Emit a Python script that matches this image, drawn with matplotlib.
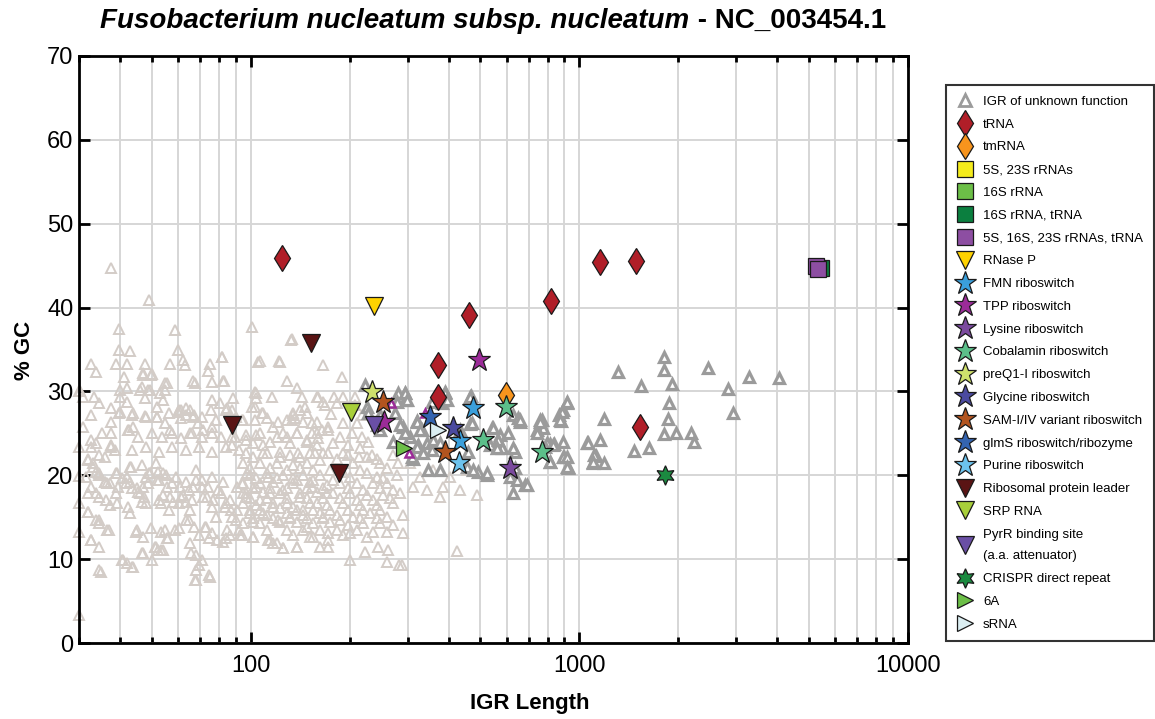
import numpy as np
import matplotlib.pyplot as plt
from matplotlib.lines import Line2D

plt.rcParams['font.family'] = ['Liberation Sans', 'DejaVu Sans']

# IGRs of unknown function (short ones, light)
igr_light = [
    (37.6, 44.7), (48.9, 40.9), (39.7, 37.5), (58.7, 37.3), (100.5, 37.7), (133, 36.3),
    (39.7, 35.0), (42.8, 34.8), (32.7, 33.3), (33.9, 32.3), (38.8, 33.3), (41.9, 33.3),
    (47.5, 33.3), (46.9, 32.2), (50.0, 32.1), (56.6, 33.3), (60.0, 35.0), (62.1, 33.7),
    (62.9, 33.1), (75.0, 33.3), (73.9, 32.4), (81.6, 34.1), (66.6, 31.2), (67.5, 31.0),
    (82.2, 31.2), (105, 33.5), (122.6, 33.5), (128.8, 31.2), (138.2, 30.4), (165.8, 33.1),
    (146.1, 28.1), (159, 29.3), (166, 28.7), (30.2, 30.0), (30.8, 29.3), (33.4, 29.3),
    (34.6, 28.6), (32.7, 27.2), (30.8, 25.7), (37.6, 26.3), (39.9, 27.5), (39.9, 29.3),
    (41.9, 28.7), (39.9, 30.2), (43.7, 27.4), (43.7, 25.7), (42.2, 25.4), (45.9, 30.2),
    (47.5, 29.2), (49.2, 30.2), (47.5, 27.1), (51.7, 26.9), (52.8, 29.8), (54.0, 29.0),
    (55.5, 31.0), (52.0, 28.1), (54.7, 26.2), (56.6, 25.4), (60.0, 27.5), (61.4, 27.8),
    (63.4, 27.2), (65.2, 27.8), (61.4, 26.8), (66.6, 26.9), (68.9, 26.2), (65.2, 25.1),
    (71.4, 25.4), (76.1, 25.7), (76.1, 29.0), (80.4, 28.6), (84.4, 28.0), (87.5, 27.8),
    (88.2, 29.2), (93.9, 26.6), (89.4, 24.6), (87.5, 23.6), (102.8, 29.9), (104, 29.2),
    (100.6, 28.1), (108, 27.4), (111.8, 26.8), (115.8, 29.3), (120.8, 26.3), (128.8, 26.6),
    (134, 27.2), (136, 26.8), (141, 27.8), (148, 27.4), (153.5, 26.2), (159, 25.1),
    (104, 24.8), (120, 24.6), (128.8, 24.6), (138, 25.1), (148, 24.2), (160, 24.4),
    (171.8, 25.4), (109, 23.6), (97, 24.2),
    (32.7, 24.2), (33.9, 23.8), (31.9, 22.0), (33.0, 21.5), (34.6, 22.4), (35.9, 22.2),
    (35.3, 25.0), (37.6, 23.6), (38.5, 23.0), (31.6, 19.8), (32.7, 18.6), (31.9, 17.9),
    (33.9, 20.4), (34.6, 20.3), (35.9, 19.2), (36.6, 19.1), (33.9, 17.9), (34.6, 17.4),
    (36.3, 17.0), (37.2, 16.4), (39.0, 20.3), (39.4, 18.6), (41.9, 19.8), (42.8, 21.0),
    (42.8, 19.2), (44.9, 18.5), (46.9, 18.6), (48.1, 19.8), (45.9, 17.9), (46.5, 16.8),
    (48.1, 16.7), (49.2, 20.3), (48.5, 19.1), (51.7, 19.4), (52.1, 20.4), (54.0, 20.3),
    (54.0, 17.6), (53.4, 16.7), (55.5, 18.6), (56.6, 17.4), (57.9, 16.8), (59.3, 19.8),
    (60.8, 18.6), (62.1, 17.6), (63.4, 19.2), (63.4, 16.8), (65.2, 15.9), (66.6, 18.6),
    (68.0, 20.6), (70.9, 19.4), (71.4, 17.4), (73.9, 18.6), (76.1, 19.8), (76.7, 17.0),
    (79.3, 18.2), (82.2, 19.2), (83.3, 16.2), (86.3, 17.0), (87.5, 15.0), (90.7, 18.6),
    (90.7, 15.9), (94.6, 17.9), (97.2, 20.3), (99.3, 15.9), (101.4, 14.4), (104, 18.6),
    (106.5, 17.0), (109, 15.5), (112.7, 19.8), (114, 17.9), (116.8, 16.2), (120.8, 14.7),
    (125, 18.2), (128.8, 16.7), (131.5, 15.0), (138, 19.4), (141, 17.4), (144, 15.9),
    (148, 13.8), (153.5, 18.6), (159, 16.7), (166, 15.0), (170, 17.9), (172, 13.1),
    (31.9, 15.6), (33.9, 14.7), (34.6, 14.3), (36.6, 13.5), (32.7, 12.3), (34.6, 11.4),
    (34.6, 8.7), (40.7, 9.9), (41.9, 9.5), (43.7, 9.1), (42.2, 16.2), (42.8, 15.5),
    (44.9, 13.5), (46.9, 12.6), (46.9, 10.7), (50.0, 9.9), (51.0, 11.4), (52.1, 11.1),
    (54.0, 11.1), (54.7, 13.5), (55.9, 12.5), (58.7, 13.5), (63.4, 14.7), (65.2, 11.9),
    (65.9, 10.7), (68.0, 8.7), (67.5, 7.5), (70.9, 9.9), (75.0, 7.9), (72.4, 13.8),
    (76.1, 13.1), (78.8, 12.3), (82.2, 12.0), (84.4, 13.5), (86.3, 12.9), (92.6, 12.9),
    (101.4, 12.6), (112.7, 12.3), (120, 11.9), (125, 11.3), (138, 11.4), (155, 12.6),
    (162, 11.4),
    (30, 30.0), (30, 23.4), (30, 19.9), (30, 16.7), (30, 13.2), (30, 3.3),
    (132.5, 36.1), (107, 33.6), (121.8, 33.6), (189, 31.7), (104, 29.8), (143, 29.3),
    (160, 29.3), (179, 29.3), (191, 29.3), (207.7, 29.3), (102.8, 28.1), (168, 28.4),
    (183, 28.6), (208, 28.4), (109, 27.4), (134, 27.4), (176, 27.3), (218, 27.2),
    (94.6, 26.6), (102.8, 26.6), (117, 25.7), (133, 26.6), (144, 26.3), (159, 26.3),
    (172, 25.7), (191, 26.2), (211, 26.2), (97, 24.8), (106.5, 25.0), (125, 25.1),
    (138, 25.0), (153.5, 25.0), (164.5, 25.4), (187, 24.6), (203, 25.0), (218, 24.6),
    (227, 24.0), (101.4, 23.8), (114, 24.0), (131.5, 23.8), (148, 24.0), (159, 23.6),
    (178, 23.8), (198, 23.6), (215, 23.2), (97, 22.6), (109, 22.6), (122.6, 22.8),
    (139, 22.6), (157, 22.6), (172, 22.6), (191, 22.6), (213, 22.2), (234, 22.4),
    (112, 22.6), (131.5, 22.4), (166, 22.6), (197, 22.4), (225, 22.2), (270, 22.4),
    (94.6, 21.5), (106.5, 21.5), (120, 21.5), (134, 21.2), (148, 21.5), (162, 21.8),
    (205, 21.5), (247.6, 21.5), (281, 21.5), (99.3, 20.0), (112, 20.3), (125, 20.0),
    (144, 20.0), (162, 20.0), (200.5, 19.8), (225, 20.3), (242, 19.8), (279, 20.0),
    (94.6, 19.1), (106.5, 19.1), (117, 19.2), (134, 19.1), (151, 19.2), (170, 18.8),
    (187, 19.1), (211, 19.1), (236, 19.1), (260, 19.1), (97, 17.9), (109, 18.0),
    (122.6, 17.9), (141, 17.9), (159, 18.0), (178, 17.9), (200.5, 17.9), (225, 17.6),
    (253, 17.6), (285, 17.9), (94.6, 16.7), (104, 16.4), (117, 16.7), (134, 16.2),
    (151, 16.7), (170, 16.4), (191, 16.7), (215, 16.4), (242, 16.4), (271, 16.7),
    (99.3, 15.5), (112, 15.3), (128.8, 15.5), (144, 15.3), (162, 15.5), (183, 15.3),
    (205, 15.0), (231, 15.5), (260, 15.0), (290, 15.3), (94.6, 14.3), (106.5, 14.3),
    (122.6, 14.4), (138, 14.4), (155, 14.3), (174, 14.4), (197, 14.1), (219, 14.3),
    (247.6, 14.3), (271, 14.1), (93.9, 12.9), (101.4, 12.6), (114, 12.3), (117, 11.9),
    (125, 11.3), (134, 12.9), (138, 11.4), (151, 12.6), (172, 12.3), (172, 11.4),
    (191, 12.9), (200.5, 13.1), (225, 12.6), (223, 10.8), (244, 11.4), (262, 11.1),
    (200.5, 9.9), (260, 9.7), (288, 9.3), (290, 13.1),
    (306, 21.5), (327, 19.8), (359, 20.6), (312, 18.6), (344, 18.2), (385, 18.6),
    (405, 19.8), (433, 18.2), (377, 17.4), (488, 17.6), (455, 20.6), (423, 11.0),
    (283, 9.3), (82, 34.1), (82.8, 31.3), (76, 31.1), (41, 31.7), (42, 30.4),
    (46.5, 30.5), (48.5, 30.2), (49.6, 31.9), (46.9, 31.9), (55, 31.0), (55, 30.2),
    (32, 21.8), (33.2, 21.0), (34.4, 20.0), (36, 19.2), (37.4, 19.1), (39.1, 20.3),
    (40.5, 19.7), (41.6, 19.1), (43.4, 18.5), (45.5, 18.0), (47.2, 17.4), (43.1, 21.0),
    (46.6, 21.2), (48.9, 20.3), (51.4, 21.5), (52.5, 19.4), (55.2, 20.0), (52.5, 17.0),
    (56.3, 15.9), (57.6, 19.1), (60.4, 16.7), (61.4, 17.4), (64.7, 18.2), (66, 17.0),
    (67.9, 19.4), (70.9, 18.6), (73.6, 17.4), (76.1, 16.2), (78.2, 15.0), (81.0, 17.9),
    (83.9, 16.7), (86.9, 15.9), (90, 14.7), (91.9, 13.5), (93.9, 19.1), (96.6, 17.4),
    (64.7, 14.7), (67, 13.8), (69.4, 12.9), (73, 13.8), (74.4, 12.5), (67.9, 10.5),
    (69.4, 9.3), (67.9, 7.5), (74.4, 8.1), (83.9, 12.5), (60.4, 13.7), (55.5, 12.5),
    (53.2, 13.2), (51.4, 11.4), (53.2, 11.1), (49.6, 13.7), (46.6, 10.7), (44.6, 13.2),
    (40.5, 9.9), (43.4, 9.1), (35.1, 8.5), (36.9, 13.5), (34.4, 14.7), (32.7, 12.3),
    (32, 15.6), (38.8, 17.9), (39.1, 16.7),
    (101.4, 22.2), (122.6, 22.2), (141, 22.2), (151.4, 22.6), (183, 22.0), (242, 22.0),
    (99.3, 20.9), (114, 20.9), (128.8, 20.6), (141, 20.9), (155, 20.6), (174, 20.6),
    (191, 20.4), (215, 20.6), (260, 20.9), (104, 19.7), (120, 19.7), (134, 19.7),
    (155, 19.4), (178, 19.4), (253, 19.7), (101.4, 18.5), (114, 18.5), (128.8, 18.5),
    (148, 18.5), (166, 18.5), (197, 18.5), (219, 18.2), (247.6, 18.5), (271, 18.2),
    (99.3, 17.3), (112, 17.3), (128.8, 17.3), (148, 17.3), (166, 17.3), (187, 17.3),
    (211, 17.0), (236, 17.0), (266, 17.3), (106.5, 15.9), (122.6, 16.1), (138, 15.9),
    (155, 15.9), (174, 15.9), (197, 15.9), (219, 15.9), (247.6, 15.9), (101.4, 14.9),
    (117, 14.9), (131.5, 14.9), (148, 14.9), (166, 14.9), (187, 14.7), (215, 14.9),
    (242, 14.9), (112, 13.5), (128.8, 13.5), (144, 13.5), (162, 13.5), (183, 13.5),
    (211, 13.5), (236, 13.2), (260, 13.2),
    (37.6, 28.0), (39.7, 27.4), (43.4, 27.2), (47.9, 26.9), (51.7, 26.9), (56.3, 27.4),
    (60.4, 27.8), (63.4, 28.0), (67, 27.2), (71, 26.9), (75.5, 27.8), (78.2, 26.6),
    (83.9, 27.8), (90, 26.9), (37.6, 25.0), (42.5, 25.4), (45.5, 24.6), (50, 25.0),
    (53.5, 24.6), (57.6, 25.0), (61.4, 24.4), (66, 25.0), (70.9, 24.6), (76.1, 25.1),
    (81, 24.6), (87.5, 24.6), (32.7, 23.4), (37.6, 23.4), (43.4, 23.0), (47.9, 23.4),
    (52.5, 22.8), (57.6, 23.4), (63.4, 23.0), (69.4, 23.4), (76.1, 22.8), (83.9, 23.4),
    (91.9, 23.0),
]

# IGRs of unknown function (longer ones, darker)
igr_dark = [
    (1803, 34.1), (1306, 32.3), (1803, 32.5), (2455, 32.8), (1545, 30.6), (1919, 30.9),
    (3273, 31.7), (4045, 31.6), (2825, 30.3), (1879, 28.6), (919, 28.6), (893, 27.8),
    (868, 27.2), (880, 26.5), (771, 26.6), (777, 25.6), (1184, 26.7), (1862, 26.7),
    (2925, 27.4), (1057, 23.8), (1159, 24.2), (1803, 24.9), (1963, 25.1), (2180, 25.0),
    (2225, 24.0), (1462, 22.9), (1623, 23.2), (1120, 22.3), (1097, 21.5), (1192, 21.5),
    (816, 23.7), (839, 23.7), (900, 22.2), (816, 21.6), (925, 20.9),
    (295, 29.8), (295, 29.0), (390, 29.9), (468, 29.4), (383, 28.6), (356, 28.7),
    (321, 26.5), (290, 25.7), (305, 24.6), (332, 25.4), (323, 23.6), (344, 23.8),
    (356, 23.0), (312, 22.0), (466, 26.1), (433, 25.4), (543, 25.6), (574, 24.8),
    (608, 25.0), (630, 27.2), (650, 26.8), (660, 26.3), (760, 26.6), (745, 25.4),
    (887, 27.5), (873, 26.6), (919, 28.7), (562, 23.2), (583, 23.2), (638, 22.8),
    (797, 23.8), (833, 23.6), (816, 21.6), (893, 22.2), (925, 21.0), (1064, 23.8),
    (1104, 22.4), (1097, 21.6), (638, 20.9), (616, 19.8), (684, 18.8), (630, 17.9),
    (492, 20.4), (524, 20.0), (455, 21.0), (472, 26.2), (536, 23.6), (377, 20.6),
    (346, 20.6),
    (223, 30.8), (281, 29.8), (295, 29.8), (278, 28.7), (299, 29.0), (226, 28.1),
    (227, 27.4), (247, 27.2), (275, 27.4), (321, 26.3), (285, 26.0), (295, 25.1),
    (271, 24.0), (327, 25.4), (321, 23.4), (310, 22.2), (335, 22.6), (359, 24.2),
    (377, 23.8), (247, 25.4), (242, 26.0), (466, 29.3), (390, 29.8), (459, 22.8),
    (475, 20.6), (524, 20.3), (545, 25.6), (565, 24.2), (562, 23.2), (647, 19.4),
    (694, 18.8), (630, 23.2), (660, 26.6), (745, 25.1), (760, 26.3), (787, 23.4),
    (893, 24.0), (919, 22.2), (919, 21.0), (396, 29.0),
]

# small unlabelled hits
tpp_small_x = [267, 303, 339]
tpp_small_y = [28.6, 22.6, 27.4]

trna_x = [124, 462, 822, 372, 372, 1159, 1482, 1524]
trna_y = [45.9, 39.1, 40.8, 33.1, 29.3, 45.4, 45.6, 25.7]
tmrna_x, tmrna_y = [599], [29.6]
rrna_5s23s_x, rrna_5s23s_y = [], []
rrna_16s_x, rrna_16s_y = [], []
rrna_16s_trna_x, rrna_16s_trna_y = [5450], [44.7]
rrna_all_x, rrna_all_y = [5250, 5330], [45.0, 44.6]
rnasep_x, rnasep_y = [237], [40.2]
fmn_x, fmn_y = [475, 433], [28.0, 24.1]
tpp_x, tpp_y = [495, 254], [33.8, 26.3]
lysine_x, lysine_y = [616], [20.9]
cobalamin_x, cobalamin_y = [599, 509, 771], [28.1, 24.2, 22.8]
preq1_x, preq1_y = [234], [29.9]
glycine_x, glycine_y = [413], [25.6]
sam_x, sam_y = [253, 390], [28.7, 22.8]
glms_x, glms_y = [351], [26.9]
purine_x, purine_y = [431], [21.5]
rpl_x, rpl_y = [152, 87.5, 185], [35.8, 26.0, 20.3]
srp_x, srp_y = [202], [27.5]
pyrr_x, pyrr_y = [237], [26.0]
crispr_x, crispr_y = [1816], [20.0]
sixa_x, sixa_y = [293], [23.2]
srna_x, srna_y = [370], [25.4]

star6 = (6, 1, 0)
series = [
    ('tRNA', 'd', '#b01e28', 13, trna_x, trna_y),
    ('tmRNA', 'd', '#f7941d', 13, tmrna_x, tmrna_y),
    ('5S, 23S rRNAs', 's', '#f5ec1c', 11, rrna_5s23s_x, rrna_5s23s_y),
    ('16S rRNA', 's', '#6cbf47', 11, rrna_16s_x, rrna_16s_y),
    ('16S rRNA, tRNA', 's', '#0b7f3f', 11, rrna_16s_trna_x, rrna_16s_trna_y),
    ('5S, 16S, 23S rRNAs, tRNA', 's', '#8d4ea2', 11, rrna_all_x, rrna_all_y),
    ('RNase P', 'v', '#ffd200', 13, rnasep_x, rnasep_y),
    ('FMN riboswitch', '*', '#3a9fdb', 17, fmn_x, fmn_y),
    ('TPP riboswitch', '*', '#9b2b98', 17, tpp_x, tpp_y),
    ('Lysine riboswitch', '*', '#7b4a9e', 17, lysine_x, lysine_y),
    ('Cobalamin riboswitch', '*', '#5cbf8a', 17, cobalamin_x, cobalamin_y),
    ('preQ1-I riboswitch', '*', '#cfe06c', 17, preq1_x, preq1_y),
    ('Glycine riboswitch', '*', '#4b4a9f', 17, glycine_x, glycine_y),
    ('SAM-I/IV variant riboswitch', '*', '#b2541f', 17, sam_x, sam_y),
    ('glmS riboswitch/ribozyme', '*', '#3464b0', 17, glms_x, glms_y),
    ('Purine riboswitch', '*', '#6cc3ee', 17, purine_x, purine_y),
    ('Ribosomal protein leader', 'v', '#5a1414', 13, rpl_x, rpl_y),
    ('SRP RNA', 'v', '#a8cf3a', 13, srp_x, srp_y),
    ('PyrR binding site\n(a.a. attenuator)', 'v', '#6a4fa5', 13, pyrr_x, pyrr_y),
    ('CRISPR direct repeat', star6, '#1b8a40', 14, crispr_x, crispr_y),
    ('6A', '>', '#6cbf47', 12, sixa_x, sixa_y),
    ('sRNA', '>', '#dbeef2', 12, srna_x, srna_y),
]

fig = plt.figure(figsize=(11.55, 7.19), dpi=100)
ax = fig.add_axes([79 / 1155, 1 - 643 / 719, 829 / 1155, 587 / 719])

lx, ly = zip(*igr_light)
ax.plot(lx, ly, ls='none', marker='^', ms=7, mfc='none', mec='#d3ccc7', mew=1.4,
        clip_on=False, zorder=2)
dx, dy = zip(*igr_dark)
ax.plot(dx, dy, ls='none', marker='^', ms=7, mfc='white', mec='#9b9b9b', mew=2.3,
        zorder=3)
ax.plot(tpp_small_x, tpp_small_y, ls='none', marker='^', ms=6, mfc='white',
        mec='#9b2b98', mew=1.8, zorder=4)

handles = [Line2D([], [], ls='none', marker='^', ms=8, mfc='white', mec='#9b9b9b', mew=2)]
labels = ['IGR of unknown function']
for label, mk, col, ms, xs, ys in series:
    if xs:
        ax.plot(xs, ys, ls='none', marker=mk, ms=ms, mfc=col, mec='#1a1a1a', mew=0.9,
                zorder=5)
    handles.append(Line2D([], [], ls='none', marker=mk, ms=ms, mfc=col, mec='#1a1a1a',
                          mew=0.9))
    labels.append(label)

ax.set_xscale('log')
ax.set_xlim(30, 10000)
ax.set_ylim(0, 70)
ax.set_yticks(range(0, 71, 10))
ax.set_xticks([100, 1000, 10000])
ax.set_xticklabels(['100', '1000', '10000'])
ax.grid(True, which='both', axis='x', color='#d6d6d6', lw=1.4)
ax.grid(True, which='major', axis='y', color='#d6d6d6', lw=1.4)
ax.set_axisbelow(True)
for s in ax.spines.values():
    s.set_linewidth(2)
ax.tick_params(which='both', direction='in', top=True, right=True, width=2,
               labelsize=17, colors='black')
ax.tick_params(which='major', length=8)
ax.tick_params(which='minor', length=4)
ax.tick_params(axis='y', pad=4)
ax.tick_params(axis='x', pad=9)

fig.text(530 / 1155, 1 - 703 / 719, 'IGR Length', ha='center', va='center',
         fontsize=16, fontweight='bold')
fig.text(24 / 1155, 1 - 350 / 719, '% GC', ha='center', va='center', rotation=90,
         fontsize=16, fontweight='bold')

# title: italic species name + plain accession
t1 = fig.text(0, 1 - 21 / 719, 'Fusobacterium nucleatum subsp. nucleatum',
              fontsize=20, fontweight='bold', style='italic', va='center')
t2 = fig.text(0, 1 - 21 / 719, ' - NC_003454.1', fontsize=20, fontweight='bold',
              va='center')
fig.canvas.draw()
r = fig.canvas.get_renderer()
w1 = t1.get_window_extent(r).width
w2 = t2.get_window_extent(r).width
x0 = 493 - (w1 + w2) / 2
t1.set_x(x0 / 1155)
t2.set_x((x0 + w1) / 1155)

leg = fig.legend(handles, labels, loc='upper left',
                 bbox_to_anchor=(946 / 1155, 1 - 85 / 719), frameon=True,
                 fancybox=False, edgecolor='black', fontsize=9.5, handlelength=1.3,
                 handletextpad=0.7, labelspacing=0.80, borderpad=0.8,
                 borderaxespad=0)
leg.get_frame().set_linewidth(1.5)
for t in leg.get_texts():
    if t.get_text().startswith('PyrR'):
        t.set_linespacing(2.1)

fig.savefig('out.png', dpi=100)
